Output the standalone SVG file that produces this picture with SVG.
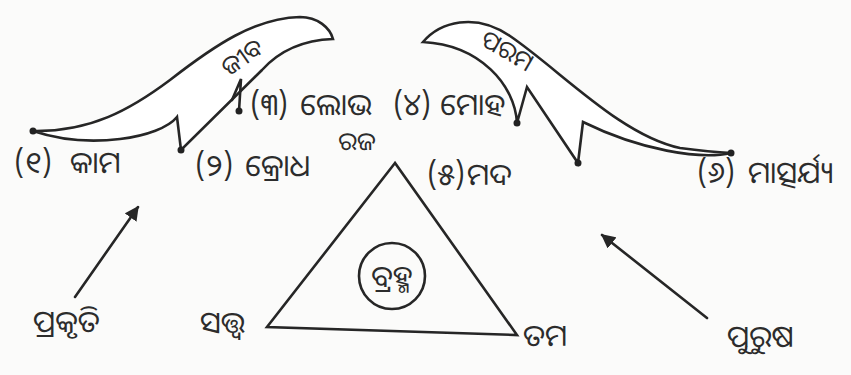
<svg xmlns="http://www.w3.org/2000/svg" width="851" height="375" viewBox="0 0 851 375">
<style>
  .bg{fill:#fbfbfa}
  .ln{fill:none;stroke:#262626;stroke-width:2.6;stroke-linejoin:miter;stroke-linecap:round}
  .wing{fill:#ffffff;stroke:#262626;stroke-width:2.6;stroke-linejoin:miter}
  .dot{fill:#222}
  .t{font-family:"Noto Sans Oriya","Noto Sans","DejaVu Sans",sans-serif;font-size:30px;fill:#2c2c2c}
  .s{font-size:25px}
</style>
<defs>
  <marker id="ah" viewBox="0 0 10 10" refX="9" refY="5" markerWidth="5.5" markerHeight="5.5" orient="auto" markerUnits="strokeWidth">
    <path d="M0,0 L10,5 L0,10 Z" fill="#262626"/>
  </marker>
</defs>
<rect class="bg" x="0" y="0" width="851" height="375"/>

<g id="wing-jiba">
  <path class="wing" d="M33,131 C90,132 130,110 170,80 C215,45 255,18 300,17 C318,17 330,28 333,39 C305,40 280,50 262,70 L181,150 L177,117 C160,138 90,150 33,131 Z"/>
  <path class="ln" d="M232,100 L241,79 L239,111"/>
  <text class="t s" transform="translate(247,64) rotate(-35)" text-anchor="middle">ଜୀବ</text>
</g>
<g id="wing-parama">
  <path class="wing" d="M423,42 C440,22 475,12 510,36 C560,70 620,135 680,148 Q710,152 731,153 C700,160 640,150 583,122 L578,163 L527,87 L517,123 C515,85 480,45 423,42 Z"/>
  <text class="t s" transform="translate(503,58) rotate(30)" text-anchor="middle">ପରମ</text>
</g>

<g id="dots">
  <circle class="dot" cx="33" cy="131" r="3.5"/>
  <circle class="dot" cx="181" cy="150" r="3.5"/>
  <circle class="dot" cx="239" cy="111" r="3.5"/>
  <circle class="dot" cx="517" cy="123" r="3.5"/>
  <circle class="dot" cx="578" cy="163" r="3.5"/>
  <circle class="dot" cx="731" cy="153" r="3.5"/>
</g>

<g id="labels">
  <text class="t" y="173"><tspan x="14">(୧)</tspan><tspan x="70">କାମ</tspan></text>
  <text class="t" y="176"><tspan x="195">(୨)</tspan><tspan x="245">କ୍ରୋଧ</tspan></text>
  <text class="t" y="115"><tspan x="250">(୩)</tspan><tspan x="300">ଲୋଭ</tspan></text>
  <text class="t" y="115"><tspan x="393">(୪)</tspan><tspan x="440">ମୋହ</tspan></text>
  <text class="t" y="185"><tspan x="427">(୫)</tspan><tspan x="467">ମଦ</tspan></text>
  <text class="t" y="183"><tspan x="697">(୬)</tspan><tspan x="748">ମାତ୍ସର୍ଯ୍ୟ</tspan></text>
</g>

<g id="triangle">
  <path class="ln" d="M395,163 L267,327 L517,335 Z"/>
  <text class="t s" x="357" y="150" text-anchor="middle">ରଜ</text>
  <text class="t" x="200" y="333">ସତ୍ତ୍ୱ</text>
  <text class="t" x="523" y="346">ତମ</text>
</g>

<g id="brahma">
  <circle class="ln" cx="392" cy="276" r="33"/>
  <text class="t" x="392" y="287" text-anchor="middle">ବ୍ରହ୍ମ</text>
</g>

<g id="prakruti">
  <text class="t" x="33" y="332">ପ୍ରକୃତି</text>
</g>
<g id="purusha">
  <text class="t" x="727" y="347">ପୁରୁଷ</text>
</g>

<g id="connectors">
  <line class="ln" x1="75" y1="297" x2="138" y2="207" marker-end="url(#ah)"/>
  <line class="ln" x1="707" y1="318" x2="602" y2="235" marker-end="url(#ah)"/>
</g>
</svg>
